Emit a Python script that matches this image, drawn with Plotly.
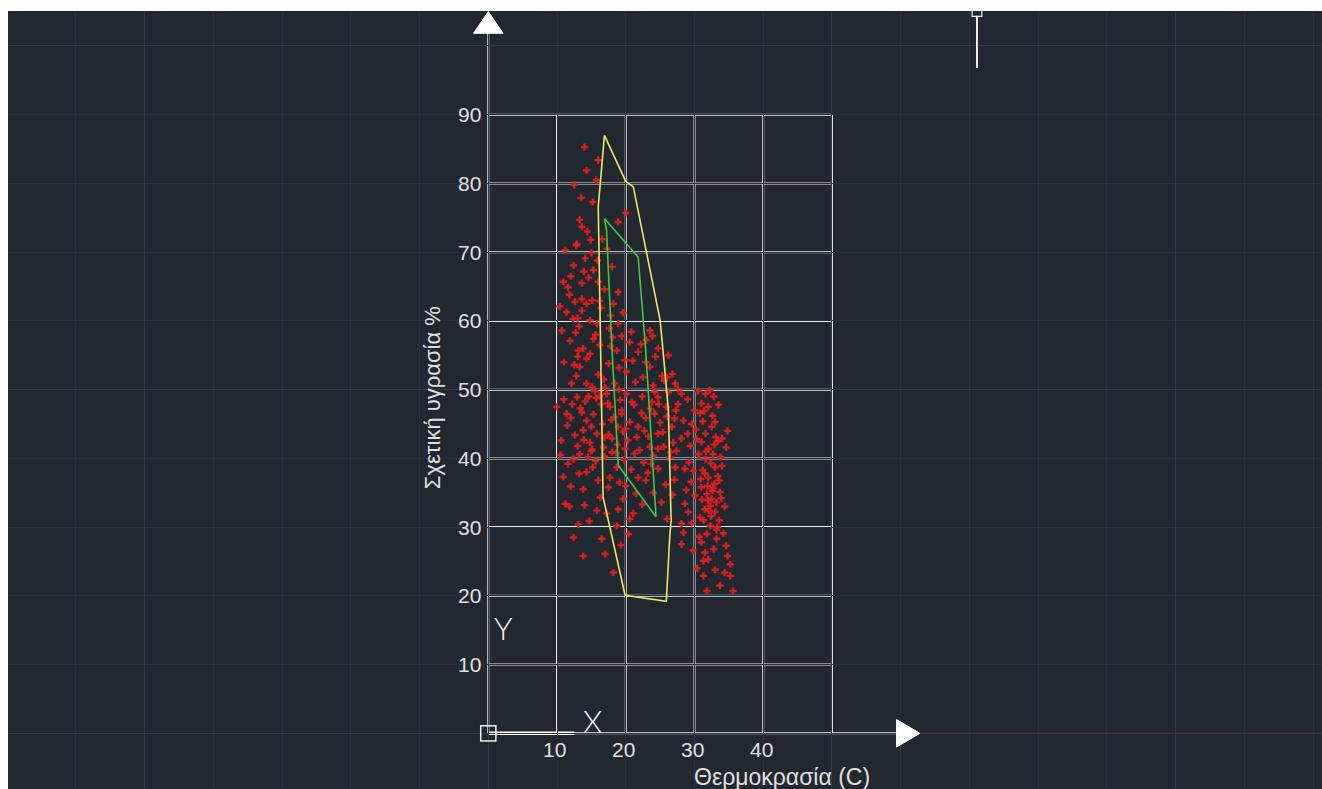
import plotly.graph_objects as go

# ---------------- data ----------------
# scattered observations: temperature (C) / relative humidity (%)
upper_temp = [14.0, 16.0, 14.3, 12.5, 15.2, 13.3, 13.6, 14.4, 18.9, 20.0, 16.6, 14.1, 12.4,
              15.3, 18.0, 10.9, 13.6, 16.0, 13.6, 12.6, 14.3, 11.4, 13.6, 18.9, 18.2, 14.8,
              15.8, 10.7, 18.9, 15.7, 17.3, 12.0, 19.6, 11.8, 16.9, 13.0, 15.0, 17.6, 12.9,
              11.2, 12.8, 13.9, 15.1, 16.4, 11.6, 13.2, 14.6, 12.3, 15.9, 17.8, 10.4, 12.7,
              14.9, 16.2, 13.5]
upper_rh = [85.3, 83.4, 81.9, 79.8, 77.3, 74.7, 73.7, 73.0, 74.4, 75.7, 71.9, 69.1, 68.1,
            67.4, 67.9, 65.7, 65.5, 65.7, 63.2, 62.8, 62.5, 61.3, 61.5, 64.2, 62.5, 60.1,
            59.6, 58.6, 59.6, 80.5, 70.5, 66.5, 61.2, 63.8, 64.6, 60.4, 69.9, 58.9, 71.2,
            70.3, 71.0, 67.2, 63.0, 61.9, 64.9, 59.2, 66.3, 60.3, 68.8, 60.8, 62.1, 58.3,
            71.8, 62.9, 77.9]

mid_temp = [15.3, 13.8, 13.1, 18.7, 20.6, 21.8, 14.3, 13.3, 17.5, 20.1, 12.1, 14.3, 18.4,
            23.5, 24.7, 24.3, 26.2, 23.5, 27.2, 16.2, 11.0, 19.4, 22.5, 25.3, 12.8, 16.8,
            21.0, 15.6, 26.8, 23.0, 19.0, 17.0, 11.9, 13.0, 14.8, 16.0, 17.8, 19.9, 21.4,
            22.9, 24.0, 25.6, 12.5, 15.1, 18.1, 20.8, 22.2, 23.9, 26.0, 27.6]
mid_rh = [57.4, 56.0, 55.7, 55.7, 56.9, 55.5, 54.5, 53.3, 53.8, 52.6, 50.9, 50.9, 50.9,
          58.6, 56.0, 54.8, 55.0, 53.3, 50.9, 56.5, 54.0, 57.8, 51.8, 52.0, 52.0, 51.5,
          54.2, 58.0, 52.3, 57.2, 53.2, 50.3, 57.1, 54.8, 55.2, 52.2, 56.3, 54.3, 51.1,
          54.0, 50.6, 51.3, 53.6, 50.4, 57.6, 58.4, 56.6, 57.8, 51.8, 50.1]

core_temp = [9.95, 11.4, 12.9, 13.6, 14.3, 15.0, 15.8, 13.8, 12.6, 17.2, 17.7, 19.2, 20.1,
             19.4, 20.6, 18.9, 21.6, 18.0, 28.1, 24.7, 23.8, 25.9, 24.2, 26.7, 24.7, 28.4,
             28.1, 11.5, 13.0, 16.4, 15.5, 14.8, 17.9, 16.8, 19.9, 21.2, 22.4, 22.9, 23.3,
             22.0, 25.5, 26.2, 27.3, 25.0, 21.8, 20.3, 14.1, 12.2, 16.6, 18.6, 24.0, 26.9,
             23.6, 10.6, 17.5, 15.3, 19.0, 12.0, 13.4, 14.6, 15.7, 16.9, 18.3, 19.6, 20.9,
             22.3, 23.5, 24.8, 26.0, 27.1, 11.0, 13.9, 15.1, 16.2, 17.4, 18.8, 20.0, 21.3,
             22.7, 24.2, 25.4, 26.5, 14.5, 19.4]
core_rh = [47.5, 46.5, 48.9, 46.7, 45.5, 44.6, 43.6, 44.1, 43.4, 49.4, 47.5, 48.5, 49.4,
           46.5, 45.3, 44.6, 43.1, 42.9, 49.4, 48.9, 48.2, 47.5, 46.5, 44.6, 43.6, 45.5,
           42.9, 44.8, 41.8, 47.9, 49.8, 42.3, 45.6, 41.6, 41.4, 47.8, 49.0, 45.9, 43.2,
           41.2, 41.7, 49.6, 47.0, 45.2, 44.6, 42.6, 48.3, 47.9, 45.0, 40.8, 40.4, 42.3,
           47.2, 42.6, 43.5, 46.4, 50.0, 45.9, 47.3, 49.0, 48.8, 43.0, 46.0, 43.9, 48.2,
           46.6, 41.7, 47.9, 46.1, 45.8, 48.6, 42.7, 41.3, 49.1, 48.0, 42.0, 44.3, 40.7,
           44.0, 49.7, 43.8, 40.9, 40.2, 47.0]

low_temp = [15.0, 12.4, 11.6, 13.3, 14.3, 15.2, 10.9, 12.0, 13.8, 17.7, 17.5, 18.7, 21.8,
            16.3, 19.6, 15.8, 18.9, 20.6, 21.1, 18.7, 12.4, 16.5, 20.4, 13.8, 17.0, 18.2,
            19.8, 16.9, 14.0, 20.0, 13.1, 22.6, 16.0, 11.2, 19.3, 23.2, 25.8, 24.0, 26.8,
            22.4, 26.0, 27.1, 23.7, 11.8, 14.7, 17.2, 19.1, 21.5, 13.2, 15.6, 18.0, 20.8,
            22.9, 10.5]
low_rh = [41.1, 39.9, 39.2, 40.6, 38.0, 38.7, 37.3, 35.9, 35.5, 37.2, 35.8, 38.7, 37.2,
          34.3, 34.1, 32.4, 32.6, 31.2, 32.0, 30.2, 28.5, 28.3, 29.0, 25.8, 26.1, 23.4,
          39.8, 40.3, 33.2, 36.0, 30.4, 39.4, 36.8, 33.4, 27.4, 37.9, 36.2, 35.0, 34.7,
          33.3, 31.2, 36.9, 39.2, 33.0, 30.9, 32.0, 36.5, 34.9, 37.8, 39.6, 40.9, 38.4,
          36.8, 40.5]

right_temp = [31.6, 31.0, 32.0, 29.6, 31.6, 32.5, 34.0, 33.4, 24.7, 27.4, 32.0, 32.7, 31.6,
              24.7, 27.2, 28.6, 29.8, 33.0, 34.0, 32.0, 31.0, 31.8, 32.5, 33.2, 32.3, 33.7,
              31.5, 25.2, 28.6, 29.1, 28.1, 32.3, 31.8, 33.2, 28.4, 28.1, 29.8, 31.5, 31.3,
              32.0, 35.2, 34.4, 35.2, 31.3, 33.7, 31.8, 35.6, 30.5, 32.8, 30.8, 32.6, 33.5,
              31.2, 30.2, 33.1, 31.0, 29.4, 30.6, 33.8, 32.4, 31.2, 33.4, 32.9, 31.9, 32.6,
              33.9, 31.1, 32.0, 34.4, 33.0, 32.4, 33.6, 30.8, 33.2, 31.0, 32.8, 34.6, 30.4,
              33.0, 34.8, 29.5, 28.8, 27.6, 26.4, 29.0, 34.8, 34.6, 30.0, 31.4, 32.2, 33.0,
              29.0, 30.3, 31.7, 32.9, 30.9, 31.5, 32.7, 33.6, 30.1, 29.6, 32.1, 33.3, 31.3,
              30.7, 34.2, 29.2]
right_rh = [49.4, 48.0, 47.5, 45.0, 43.6, 44.6, 42.9, 42.5, 41.4, 41.1, 41.4, 40.6, 39.9,
            38.5, 38.7, 38.5, 38.2, 38.7, 38.9, 37.2, 35.8, 34.8, 34.1, 33.6, 33.1, 35.1,
            32.6, 33.6, 33.4, 32.2, 30.5, 30.2, 29.0, 28.3, 29.2, 27.5, 26.6, 26.3, 25.1,
            25.3, 24.6, 23.4, 22.9, 22.9, 21.5, 20.7, 20.7, 49.8, 49.0, 46.6, 46.2, 47.8,
            45.4, 44.2, 43.1, 42.4, 41.8, 40.6, 40.2, 39.3, 38.3, 37.4, 36.3, 36.0, 35.3,
            34.2, 34.0, 33.9, 33.0, 32.2, 31.6, 31.0, 31.4, 29.6, 27.8, 26.8, 27.3, 24.0,
            23.8, 25.8, 36.6, 35.4, 47.9, 40.1, 48.6, 44.0, 41.6, 47.0, 46.9, 49.9, 45.3,
            43.6, 42.8, 41.0, 42.0, 37.0, 37.8, 35.7, 36.8, 34.6, 30.6, 32.4, 30.0, 31.0,
            28.6, 29.1, 39.4]

# outer (yellow) comfort envelope
outer_temp = [16.9, 20.0, 21.1, 25.0, 25.5, 26.2, 26.6, 26.4, 25.9, 23.0, 19.9, 16.7, 16.4, 16.0, 16.25, 16.9]
outer_rh = [87.0, 80.3, 79.5, 60.1, 54.8, 47.0, 31.0, 28.6, 19.2, 19.6, 20.1, 34.4, 55.7, 76.6, 79.5, 87.0]
# inner (green) comfort envelope
inner_temp = [16.9, 21.8, 22.55, 22.9, 24.4, 18.9, 18.0, 17.2, 16.9]
inner_rh = [74.9, 69.3, 60.1, 55.8, 31.5, 39.0, 55.8, 73.2, 74.9]

# axis ticks / labels
x_ticks = [10, 20, 30, 40]
x_grid_max = 50
y_ticks = [10, 20, 30, 40, 50, 60, 70, 80, 90]
x_title = "Θερμοκρασία (C)"
y_title = "Σχετική υγρασία %"

# ---------------- figure ----------------
BG = "#212830"
GRID = "#ececec"
TXT = "#e0e0e0"
FONT = "Liberation Sans, Arial, sans-serif"

temp = upper_temp + mid_temp + core_temp + low_temp + right_temp
rh = upper_rh + mid_rh + core_rh + low_rh + right_rh

fig = go.Figure()
fig.add_trace(go.Scatter(x=temp, y=rh, mode="markers",
                         marker=dict(symbol="cross", size=6, color="#e21c1c", opacity=0.95,
                                     line=dict(width=0)),
                         showlegend=False, hoverinfo="skip"))
fig.add_trace(go.Scatter(x=outer_temp, y=outer_rh, mode="lines",
                         line=dict(color="#e8e85c", width=1.6), showlegend=False, hoverinfo="skip"))
fig.add_trace(go.Scatter(x=inner_temp, y=inner_rh, mode="lines",
                         line=dict(color="#3ccc3c", width=1.6), showlegend=False, hoverinfo="skip"))

shapes = []
y_top = y_ticks[-1]
# inner white grid
for xv in x_ticks + [x_grid_max]:
    shapes.append(dict(type="line", x0=xv, x1=xv, y0=0, y1=y_top,
                       line=dict(color=GRID, width=2), layer="below"))
for yv in y_ticks:
    shapes.append(dict(type="line", x0=0, x1=x_grid_max, y0=yv, y1=yv,
                       line=dict(color=GRID, width=2), layer="below"))
# UCS-like axes with arrows
shapes.append(dict(type="line", x0=0, x1=0, y0=0, y1=101.9, line=dict(color="#f0f0f0", width=2), layer="below"))
shapes.append(dict(type="line", x0=0, x1=59.5, y0=0, y1=0, line=dict(color="#f0f0f0", width=2), layer="below"))
shapes.append(dict(type="line", x0=0, x1=12.5, y0=0, y1=0, line=dict(color="#ffffff", width=3.5), layer="below"))
shapes.append(dict(type="path", path="M -2.15 101.85 L 2.15 101.85 L 0 105.0 Z",
                   fillcolor="#ffffff", line=dict(color="#ffffff", width=1)))
shapes.append(dict(type="path", path="M 59.4 2.0 L 59.4 -2.0 L 62.8 0 Z",
                   fillcolor="#ffffff", line=dict(color="#ffffff", width=1)))
shapes.append(dict(type="rect", x0=-1.1, x1=1.1, y0=-1.1, y1=1.1,
                   line=dict(color="#f0f0f0", width=1.5), fillcolor="rgba(0,0,0,0)"))
# red world X axis continuation
shapes.append(dict(type="line", x0=62.8, x1=125, y0=0, y1=0, line=dict(color="#b03232", width=1), layer="below"))
# cursor mark
shapes.append(dict(type="line", x0=71.1, x1=71.1, y0=96.8, y1=104.4, line=dict(color="#eeeeee", width=2)))
shapes.append(dict(type="rect", x0=70.4, x1=71.8, y0=104.3, y1=105.3,
                   line=dict(color="#eeeeee", width=1.2), fillcolor="rgba(0,0,0,0)"))

annotations = []
for yv in y_ticks:
    annotations.append(dict(x=-0.8, y=yv, xref="x", yref="y", text=str(yv), showarrow=False,
                            xanchor="right", yanchor="middle",
                            font=dict(family=FONT, size=21, color=TXT)))
for xv in x_ticks:
    annotations.append(dict(x=xv - 0.3, y=-2.4, xref="x", yref="y", text=str(xv), showarrow=False,
                            xanchor="center", yanchor="middle",
                            font=dict(family=FONT, size=21, color=TXT)))
annotations.append(dict(x=42.7, y=-6.3, xref="x", yref="y", text=x_title, showarrow=False,
                        xanchor="center", yanchor="middle",
                        font=dict(family=FONT, size=23, color=TXT)))
annotations.append(dict(x=-8.2, y=48.9, xref="x", yref="y", text=y_title, showarrow=False,
                        textangle=-90, xanchor="center", yanchor="middle",
                        font=dict(family=FONT, size=22, color=TXT)))
annotations.append(dict(x=2.2, y=15.3, xref="x", yref="y", text="Y", showarrow=False,
                        xanchor="center", yanchor="middle",
                        font=dict(family="Lato, Inter, sans-serif", size=31, color="#f2f2f2", weight=300)))
annotations.append(dict(x=15.2, y=1.8, xref="x", yref="y", text="X", showarrow=False,
                        xanchor="center", yanchor="middle",
                        font=dict(family="Lato, Inter, sans-serif", size=31, color="#f2f2f2", weight=300)))

fig.update_layout(
    width=1322, height=789,
    margin=dict(l=8, r=0, t=11, b=0, pad=0),
    paper_bgcolor="#ffffff", plot_bgcolor=BG,
    shapes=shapes, annotations=annotations,
    showlegend=False,
    xaxis=dict(range=[-69.88, 121.30], showticklabels=False, ticks="", zeroline=False,
               showgrid=True, tick0=0, dtick=50, gridcolor="#323a45", gridwidth=1,
               minor=dict(dtick=10, showgrid=True, gridcolor="#29313a", gridwidth=1),
               showline=False, fixedrange=True),
    yaxis=dict(range=[-8.10, 105.09], showticklabels=False, ticks="", zeroline=False,
               showgrid=True, tick0=0, dtick=50, gridcolor="#323a45", gridwidth=1,
               minor=dict(dtick=10, showgrid=True, gridcolor="#29313a", gridwidth=1),
               showline=False, fixedrange=True),
)

fig.write_html("out.html", config={"displayModeBar": False},
               post_script=("document.documentElement.style.overflow='hidden';"
                            "document.body.style.margin='0';"
                            "document.body.style.overflow='hidden';"
                            "document.body.style.background='" + BG + "';"))
